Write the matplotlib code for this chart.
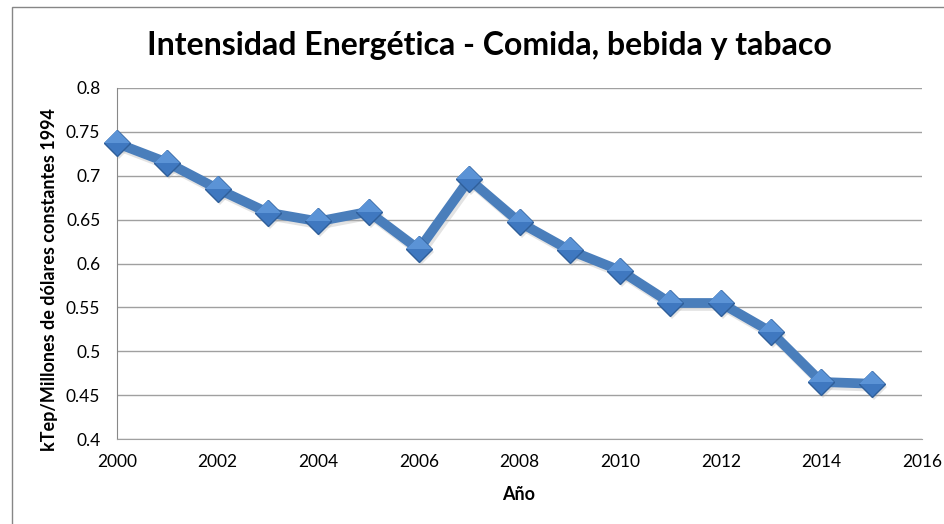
import matplotlib
matplotlib.use("Agg")
import matplotlib.pyplot as plt
from matplotlib.patches import Rectangle
from matplotlib.transforms import ScaledTranslation

plt.rcParams['font.family'] = ['Lato', 'DejaVu Sans']

years = [2000, 2001, 2002, 2003, 2004, 2005, 2006, 2007, 2008, 2009,
         2010, 2011, 2012, 2013, 2014, 2015]
intensity = [0.737, 0.715, 0.685, 0.658, 0.648, 0.659, 0.616, 0.696, 0.647,
             0.615, 0.592, 0.555, 0.555, 0.522, 0.465, 0.463]
xticks = [2000, 2002, 2004, 2006, 2008, 2010, 2012, 2014, 2016]
yticks = [0.4, 0.45, 0.5, 0.55, 0.6, 0.65, 0.7, 0.75, 0.8]
ytick_labels = ['0.4', '0.45', '0.5', '0.55', '0.6', '0.65', '0.7', '0.75', '0.8']

W, H = 945, 524
fig = plt.figure(figsize=(W / 100, H / 100), dpi=100)
fig.patch.set_facecolor('white')

# outer chart border
fig.add_artist(Rectangle((12 / W, -0.05), 1.2, (H - 7) / H + 0.05,
                         transform=fig.transFigure, fill=False,
                         edgecolor='#868686', linewidth=1.0))

left, right, top, bottom = 117, 922, 88, 439
ax = fig.add_axes([left / W, 1 - bottom / H, (right - left) / W, (bottom - top) / H])

ax.set_xlim(2000, 2016)
ax.set_ylim(0.4, 0.8)
ax.set_xticks(xticks)
ax.set_xticklabels([str(t) for t in xticks])
ax.set_yticks(yticks)
ax.set_yticklabels(ytick_labels)
ax.tick_params(length=0, labelsize=12.5, colors='black')
ax.tick_params(axis='y', pad=12)
ax.tick_params(axis='x', pad=11)

ax.grid(axis='y', color='#a0a0a0', linewidth=1.0)
ax.set_axisbelow(True)
for s in ['top', 'right']:
    ax.spines[s].set_visible(False)
ax.spines['left'].set_color('#888888')
ax.spines['bottom'].set_color('#a0a0a0')

# shadow
ax.plot(years, intensity, color='#b0b0b0', alpha=0.35, linewidth=7,
        marker='D', markersize=13, markeredgewidth=0,
        transform=ax.transData + ScaledTranslation(2 / 100, -3 / 100, fig.dpi_scale_trans),
        zorder=2, clip_on=False)
ax.plot(years, intensity, color='#4a7ebb', linewidth=7, solid_joinstyle='round',
        marker='D', markersize=13, markerfacecolor='#3f78c0',
        markeredgecolor='#2f5f9a', markeredgewidth=1.0, zorder=3, clip_on=False)
# highlight on diamonds (upper half lighter)
ax.plot(years, intensity, linestyle='none',
        marker=matplotlib.markers.MarkerStyle('D', fillstyle='top'),
        markersize=13, markerfacecolor='#5b93d6', markerfacecoloralt='none',
        markeredgewidth=0, zorder=4, clip_on=False)

ax.set_xlabel('Año', fontsize=13, fontweight='bold')
ax.xaxis.set_label_coords((519 - left) / (right - left), -(494 - bottom) / (bottom - top))
ax.xaxis.label.set_va('center')
ax.set_ylabel('kTep/Millones de dólares constantes 1994', fontsize=13,
              fontweight='bold')
ax.yaxis.set_label_coords(-(left - 50) / (right - left), (bottom - 280) / (bottom - top))
ax.yaxis.label.set_va('center')

fig.text(489 / W, 1 - 45 / H, 'Intensidad Energética - Comida, bebida y tabaco',
         ha='center', va='center', fontsize=23, fontweight='bold')

fig.savefig('out.png', dpi=100, facecolor='white')
